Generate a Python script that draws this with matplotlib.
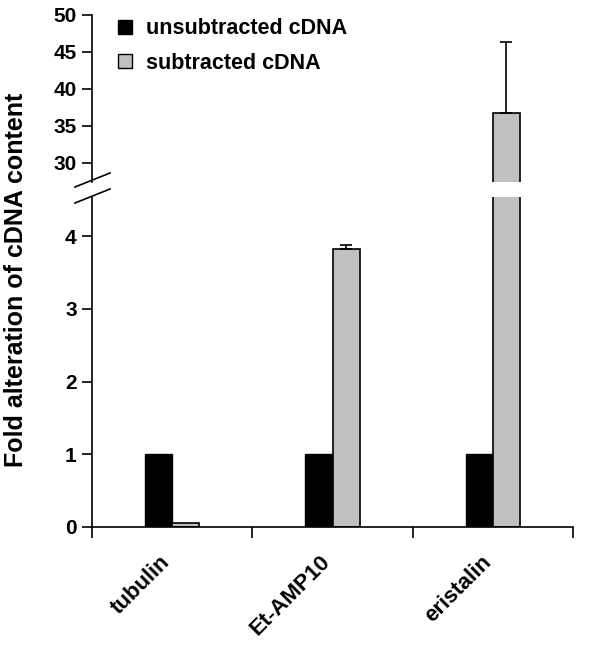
import matplotlib
matplotlib.use("Agg")
import matplotlib.pyplot as plt
from matplotlib.lines import Line2D
from matplotlib.patches import Patch
import matplotlib.transforms as mtransforms
import numpy as np

categories = ["tubulin", "Et-AMP10", "eristalin"]
unsubtracted = [1.0, 1.0, 1.0]
subtracted = [0.05, 3.82, 36.8]
subtracted_err = [0.0, 0.06, 9.6]
upper_ticks = [30, 35, 40, 45, 50]
lower_ticks = [0, 1, 2, 3, 4]

plt.rcParams['font.family'] = ['Liberation Sans', 'DejaVu Sans']
plt.rcParams['font.weight'] = 'bold'

W, H = 600, 645
fig = plt.figure(figsize=(6, 6.45), dpi=100)

left = 92 / W
width = (573 - 92) / W
ax_up = fig.add_axes([left, 1 - 182 / H, width, (182 - 15) / H])
ax_lo = fig.add_axes([left, 1 - 527 / H, width, (527 - 197) / H])

x = np.arange(len(categories))
bw = 0.17
gray = "#c0c0c0"
fs = 15

ex = [x[i] + bw / 2 for i in range(len(x)) if subtracted_err[i] > 0]
ey = [subtracted[i] for i in range(len(x)) if subtracted_err[i] > 0]
ee = [subtracted_err[i] for i in range(len(x)) if subtracted_err[i] > 0]

for ax in (ax_up, ax_lo):
    ax.bar(x - bw, unsubtracted, width=bw, align='edge', color='black',
           edgecolor='black', linewidth=1, zorder=2)
    ax.bar(x, subtracted, width=bw, align='edge', color=gray,
           edgecolor='black', linewidth=1.2, zorder=2)
    ax.errorbar(ex, ey, yerr=[[0] * len(ee), ee],
                fmt='none', ecolor='black', elinewidth=1.2, capsize=4.5, capthick=1.2, zorder=3)
    ax.set_xlim(-0.5, 2.5)
    ax.spines['top'].set_visible(False)
    ax.spines['right'].set_visible(False)
    ax.spines['left'].set_linewidth(1.2)
    ax.spines['bottom'].set_linewidth(1.2)
    ax.tick_params(axis='y', direction='out', length=7, width=1.2, labelsize=fs, pad=4)

ax_up.set_ylim(27.4, 50)
ax_up.set_yticks(upper_ticks)
ax_up.spines['bottom'].set_visible(False)
ax_up.set_xticks([])
for lab in ax_up.get_yticklabels():
    lab.set_fontweight('bold')

ax_lo.set_ylim(0, 4.54)
ax_lo.set_yticks(lower_ticks)
ax_lo.set_xticks([-0.5, 0.5, 1.5, 2.5])
ax_lo.set_xticklabels([])
ax_lo.tick_params(axis='x', which='major', direction='out', length=8, width=1.2)
ax_lo.set_xticks(x, minor=True)
ax_lo.set_xticklabels(categories, minor=True, rotation=45, ha='right', va='center',
                      rotation_mode='anchor', fontsize=16, fontweight='bold')
ax_lo.tick_params(axis='x', which='minor', length=0, pad=23)
offset = mtransforms.ScaledTranslation(-5 / 100, 0, fig.dpi_scale_trans)
for lab in ax_lo.get_xticklabels(minor=True):
    lab.set_transform(lab.get_transform() + offset)
for lab in ax_lo.get_yticklabels():
    lab.set_fontweight('bold')

# axis break marks
def px(xp, yp):
    return xp / W, 1 - yp / H
for (x0, y0, x1, y1) in [(75, 187, 110, 173), (75, 203, 110, 189)]:
    a = px(x0, y0); b = px(x1, y1)
    fig.add_artist(Line2D([a[0], b[0]], [a[1], b[1]], color='black', lw=1.2,
                          transform=fig.transFigure))

fig.text(16 / W, 1 - 280 / H, "Fold alteration of cDNA content", rotation=90,
         ha='center', va='center', fontsize=18, fontweight='bold')

handles = [Patch(facecolor='black', edgecolor='black', label='unsubtracted cDNA'),
           Patch(facecolor=gray, edgecolor='black', label='subtracted cDNA')]
fig.legend(handles=handles, loc='upper left', bbox_to_anchor=(99 / W, 1 + 1 / H),
           frameon=False, handlelength=0.65, handleheight=0.65,
           handletextpad=0.65, labelspacing=0.62, prop={'weight': 'bold', 'size': 15.5})

fig.savefig("out.png", dpi=100)
